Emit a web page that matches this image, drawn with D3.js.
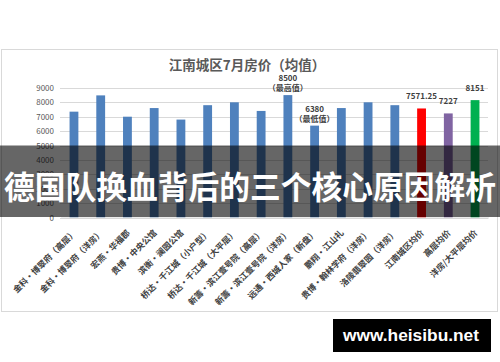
<!DOCTYPE html>
<html><head><meta charset="utf-8">
<script src="https://cdn.jsdelivr.net/npm/d3@7/dist/d3.min.js"></script>
<style>html,body{margin:0;padding:0;background:#fff;}svg{display:block;}</style>
</head><body>
<svg id="chart" width="500" height="362"></svg>
<script>
const categories = ["金科·博翠府（高层）","金科·博翠府（洋房）","宏燕·华福郡","贵博·中央公馆","滨衡·澜园公馆","桥达·千江城（小户型）","桥达·千江城（大平层）","新籌·滨江壹号院（高层）","新籌·滨江壹号院（洋房）","远通·西城人家（新盘）","鹏翔·江山礼","贵博·翰林学府（洋房）","洛陵翡翠园（洋房）","江南城区均价","高层均价","洋房/大平层均价"];
const values = [7350, 8480, 7000, 7600, 6800, 7800, 8000, 7400, 8500, 6380, 7600, 8000, 7800, 7571.25, 7227, 8151];
const barColors = ["#4f81bd","#4f81bd","#4f81bd","#4f81bd","#4f81bd","#4f81bd","#4f81bd","#4f81bd","#4f81bd","#4f81bd","#4f81bd","#4f81bd","#4f81bd","#ff0000","#8064a2","#00b050"];
const dataLabels = [null,null,null,null,null,null,null,null,["8500","（最高值）"],["6380","（最低值）"],null,null,null,["7571.25"],["7227"],["8151"]];
const yTicks = [0,1000,2000,3000,4000,5000,6000,7000,8000,9000];
const title = "江南城区7月房价（均值）";
const overlayText = "德国队换血背后的三个核心原因解析";
const watermark = "www.heisibu.net";

const svg = d3.select("#chart");
const cjk = "'Noto Sans CJK SC','Noto Sans',sans-serif";

svg.append("rect").attr("width",500).attr("height",362).attr("fill","#fff");
svg.append("rect").attr("x",1.5).attr("y",49.5).attr("width",496).attr("height",262)
  .attr("fill","#fff").attr("stroke","#d9d9d9");

svg.append("text").attr("x",247).attr("y",70).attr("text-anchor","middle")
  .attr("font-family",cjk).attr("font-weight","bold").attr("font-size",13.5)
  .attr("fill","#595959").text(title);

const y = d3.scaleLinear().domain([0,9000]).range([217.5,87.9]);
const x = d3.scaleBand().domain(categories).range([60.6,488.4]).paddingInner(0.67).paddingOuter(0.335);

// gridlines
svg.append("g").selectAll("line").data(yTicks).join("line")
  .attr("x1",60).attr("x2",488).attr("y1",d=>Math.round(y(d))+0.5).attr("y2",d=>Math.round(y(d))+0.5)
  .attr("stroke","#d9d9d9").attr("stroke-width",1);

// y axis
const yAxis = svg.append("g").attr("transform","translate(56,0)")
  .call(d3.axisLeft(y).tickValues(yTicks).tickSize(0).tickPadding(2).tickFormat(d3.format("d")));
yAxis.select(".domain").remove();
yAxis.selectAll("text").attr("font-family",cjk).attr("font-size",8).attr("fill","#595959");

// bars
svg.append("g").selectAll("rect").data(values).join("rect")
  .attr("x",(d,i)=>x(categories[i])).attr("width",x.bandwidth())
  .attr("y",d=>y(d)).attr("height",d=>y(0)-y(d))
  .attr("fill",(d,i)=>barColors[i]);

// data labels
const lg = svg.append("g").attr("font-family",cjk).attr("font-weight","bold").attr("font-size",8).attr("fill","#404040").attr("text-anchor","middle");
dataLabels.forEach((lab,i)=>{
  if(!lab) return;
  const cx = x(categories[i]) + x.bandwidth()/2;
  const top = y(values[i]);
  if(lab.length===1){
    lg.append("text").attr("x",cx).attr("y",top-9).text(lab[0]);
  } else {
    lg.append("text").attr("x",cx).attr("y",top-14).text(lab[0]);
    lg.append("text").attr("x",cx).attr("y",top-4).text(lab[1]);
  }
});

// x axis labels
const xAxis = svg.append("g").attr("transform","translate(0,217.5)")
  .call(d3.axisBottom(x).tickSize(0).tickPadding(0));
xAxis.select(".domain").attr("stroke","#d9d9d9");
xAxis.selectAll("text")
  .attr("font-family",cjk).attr("font-weight","bold").attr("font-size",8.5).attr("fill","#404040")
  .attr("text-anchor","end").attr("dy",null).attr("y",0)
  .attr("transform","translate(3,16) rotate(-45)");

// overlay band
svg.append("rect").attr("x",0).attr("y",145.5).attr("width",500).attr("height",71.5).attr("fill","rgba(0,0,0,0.6)");
svg.append("text").attr("x",250).attr("y",198.5).attr("text-anchor","middle")
  .attr("font-family",cjk).attr("font-weight","bold").attr("font-size",32)
  .attr("textLength",492).attr("lengthAdjust","spacingAndGlyphs")
  .attr("fill","#fff").text(overlayText);

// watermark
svg.append("rect").attr("x",333).attr("y",319).attr("width",158).attr("height",33).attr("fill","#000");
svg.append("text").attr("x",411).attr("y",341).attr("text-anchor","middle")
  .attr("font-family","'Liberation Sans',Arial,sans-serif").attr("font-weight","bold").attr("font-size",17)
  .attr("textLength",136).attr("lengthAdjust","spacingAndGlyphs")
  .attr("fill","#fff").text(watermark);
</script>
</body></html>
